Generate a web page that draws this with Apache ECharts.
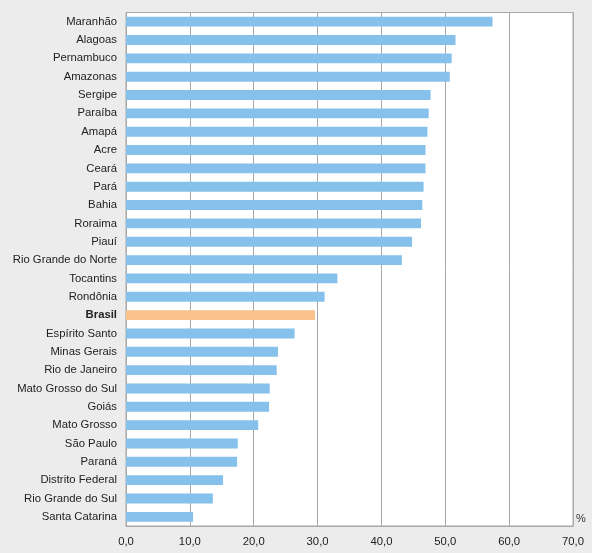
<!DOCTYPE html>
<html>
<head>
    <meta charset="utf-8">
    <script src="https://cdn.jsdelivr.net/npm/echarts@6/dist/echarts.min.js"></script>
    <style>
        body { margin: 0; background: #ececec; }
    </style>
</head>
<body>
    <div id="main" style="width: 592px;height:553px;"></div>
	<script type="text/javascript">
        // dados (%), de cima para baixo
        var estados = ['Maranhão', 'Alagoas', 'Pernambuco', 'Amazonas', 'Sergipe', 'Paraíba', 'Amapá',
            'Acre', 'Ceará', 'Pará', 'Bahia', 'Roraima', 'Piauí', 'Rio Grande do Norte', 'Tocantins',
            'Rondônia', 'Brasil', 'Espírito Santo', 'Minas Gerais', 'Rio de Janeiro', 'Mato Grosso do Sul',
            'Goiás', 'Mato Grosso', 'São Paulo', 'Paraná', 'Distrito Federal', 'Rio Grande do Sul',
            'Santa Catarina'];
        var valores = [57.4, 51.6, 51.0, 50.7, 47.7, 47.4, 47.2,
            46.9, 46.9, 46.6, 46.4, 46.2, 44.8, 43.2, 33.1,
            31.1, 29.6, 26.4, 23.8, 23.6, 22.5,
            22.4, 20.7, 17.5, 17.4, 15.2, 13.6,
            10.5];
        var destaque = 'Brasil';
        var xTicks = [0, 10, 20, 30, 40, 50, 60, 70];

        var myChart = echarts.init(document.getElementById('main'));
        var fonte = '"Liberation Sans", Arial, sans-serif';

		myChart.setOption({
            backgroundColor: '#ececec',
            animation: false,
            grid: {
                left: 126, right: 19, top: 12.5, bottom: 27,
                show: true,
                backgroundColor: '#fff',
                borderColor: '#a8a8a8',
                borderWidth: 1
            },
			xAxis: {
                type: 'value',
                min: xTicks[0],
                max: xTicks[xTicks.length - 1],
                interval: 10,
                name: '%',
                nameLocation: 'end',
                nameGap: 3,
                nameTextStyle: { color: '#333', fontSize: 11, fontFamily: fonte, verticalAlign: 'bottom', padding: [0, 0, 2, 0] },
                axisLine: { show: true, lineStyle: { color: '#a8a8a8' } },
                axisTick: { show: false },
                splitLine: { show: true, lineStyle: { color: '#a8a8a8' } },
                axisLabel: {
                    color: '#222', fontSize: 11.3, fontFamily: fonte, margin: 10,
                    formatter: function (v) { return v.toFixed(1).replace('.', ','); }
                }
			},
			yAxis: {
                type: 'category',
                inverse: true,
                data: estados,
                axisLine: { show: false },
                axisTick: { show: false },
                axisLabel: {
                    color: '#222', fontSize: 11.3, fontFamily: fonte, margin: 9,
                    formatter: function (v) { return v === destaque ? '{b|' + v + '}' : v; },
                    rich: { b: { fontWeight: 'bold', color: '#222', fontSize: 11.3, fontFamily: fonte } }
                }
            },
			series: [{
				type: 'bar',
                barCategoryGap: '46%',
				data: valores.map(function (v, i) {
                    return {
                        value: v,
                        itemStyle: { color: estados[i] === destaque ? '#f9c18c' : '#85c1ea' }
                    };
                })
			}]
		});
    </script>
</body>
</html>
